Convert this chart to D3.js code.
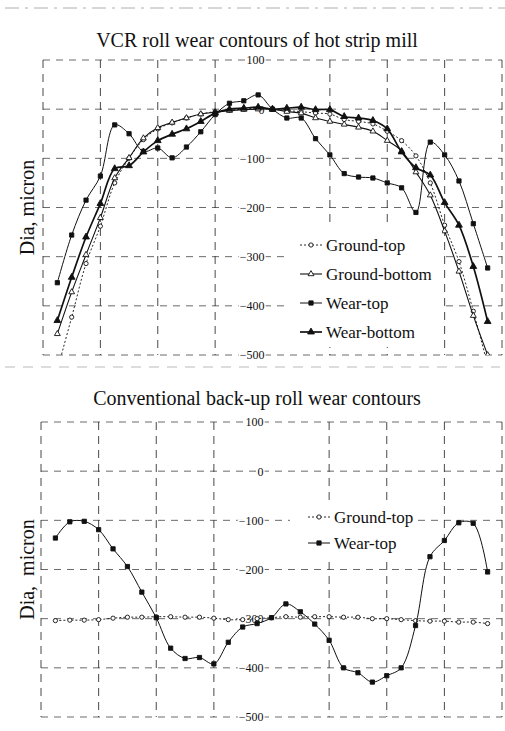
<!DOCTYPE html>
<html>
<head>
<meta charset="utf-8">
<script src="https://cdn.jsdelivr.net/npm/d3@7"></script>
<style>
	body { margin: 0; background: #fff; }
	svg { display: block; font-family: "Liberation Serif", "Times New Roman", serif; }
</style>
</head>
<body>
<svg id="chart" width="505" height="731"></svg>
<script>
// measuring stations along the roll barrel (no axis labels in the original)
var stations = [1, 2, 3, 4, 5, 6, 7, 8, 9, 10, 11, 12, 13, 14, 15, 16,
		17, 18, 19, 20, 21, 22, 23, 24, 25, 26, 27, 28, 29, 30, 31];
var gridStations = [0, 4, 8, 12, 20, 24, 28, 32];
var diaTicks = [100, 0, -100, -200, -300, -400, -500];

// VCR roll, hot strip mill
var vcrGroundTop = [-530, -423, -314, -238, -150, -100, -62, -40, -28, -18, -10, -5, -2, 0, 2, 0,
		-3, -5, -8, -10, -21, -25, -30, -45, -64, -95, -150, -236, -310, -411, -520];
var vcrGroundBottom = [-457, -372, -296, -221, -140, -99, -59, -38, -27, -18, -10, -6, -3, -1, 0, 0,
		-5, -8, -18, -25, -31, -37, -45, -64, -85, -128, -175, -248, -330, -420, -500];
var vcrWearTop = [-353, -256, -185, -136, -32, -50, -86, -79, -99, -77, -46, -11, 12, 17, 29, 0,
		-18, -18, -60, -93, -131, -138, -140, -150, -160, -210, -67, -93, -146, -233, -323];
var vcrWearBottom = [-430, -342, -260, -192, -121, -115, -87, -64, -51, -40, -25, -8, 0, 2, 4, 0,
		2, 4, -1, -1, -15, -18, -23, -40, -87, -119, -134, -190, -236, -320, -432];

// conventional back-up roll
var cbrGroundTop = [-304, -303, -303, -302, -299, -297, -297, -296, -296, -297, -297, -299, -302, -302, -300, -298,
		-296, -297, -296, -296, -297, -297, -300, -300, -302, -304, -305, -305, -307, -307, -310];
var cbrWearTop = [-136, -103, -102, -119, -158, -194, -246, -298, -360, -381, -379, -392, -348, -317, -310, -298,
		-270, -286, -311, -344, -400, -410, -429, -416, -400, -314, -174, -141, -105, -106, -205];

var styles = {
	"Ground-top":    {symbol: d3.symbolCircle,   size: 14, fill: "#fff", dash: "2,2", width: 0.9},
	"Ground-bottom": {symbol: d3.symbolTriangle, size: 15, fill: "#fff", dash: null,  width: 1.1},
	"Wear-top":      {symbol: d3.symbolSquare,   size: 18, fill: "#111", dash: null,  width: 1},
	"Wear-bottom":   {symbol: d3.symbolTriangle, size: 20, fill: "#111", dash: null,  width: 1.7}
};

var svg = d3.select("#chart");

// faint scan rules left over from the page
svg.append("line")
	.attr("x1", 5).attr("x2", 505).attr("y1", 8).attr("y2", 8)
	.attr("stroke", "#999").attr("stroke-width", 0.8).attr("stroke-dasharray", "14,6,3,6");
svg.append("line")
	.attr("x1", 5).attr("x2", 500).attr("y1", 367).attr("y2", 367)
	.attr("stroke", "#aaa").attr("stroke-width", 0.8).attr("stroke-dasharray", "10,8");

function drawPanel(cfg) {
	var x = d3.scaleLinear().domain([0, 32]).range([cfg.left, cfg.right]),
			y = d3.scaleLinear().domain([-500, 100]).range([cfg.bottom, cfg.top]);

	var g = svg.append("g").attr("class", "panel");

	g.append("text")
		.attr("x", 257)
		.attr("y", cfg.titleY)
		.attr("text-anchor", "middle")
		.attr("font-size", 20)
		.attr("fill", "#111")
		.text(cfg.title);

	g.append("text")
		.attr("transform", "translate(34," + ((cfg.top + cfg.bottom) / 2) + ") rotate(-90)")
		.attr("text-anchor", "middle")
		.attr("font-size", 20)
		.attr("fill", "#111")
		.style("white-space", "pre")
		.text(cfg.yLabel);

	// dashed grid, the frame is part of it
	g.append("g").attr("class", "grid-y")
		.selectAll("line")
		.data(diaTicks)
		.join("line")
			.attr("x1", cfg.left).attr("x2", cfg.right)
			.attr("y1", function(d) { return y(d); })
			.attr("y2", function(d) { return y(d); })
			.attr("stroke", "#444")
			.attr("stroke-width", 0.8)
			.attr("stroke-dasharray", "7,6");

	g.append("g").attr("class", "grid-x")
		.selectAll("line")
		.data(gridStations)
		.join("line")
			.attr("x1", function(d) { return x(d); })
			.attr("x2", function(d) { return x(d); })
			.attr("y1", cfg.top).attr("y2", cfg.bottom)
			.attr("stroke", "#333")
			.attr("stroke-width", 0.9)
			.attr("stroke-dasharray", "8,6");

	// tick labels sit in the middle of the plot
	var yAxis = d3.axisLeft(y).tickValues(diaTicks).tickSize(0).tickPadding(0);
	var axisG = g.append("g")
		.attr("transform", "translate(" + (x(16) - 8) + ",0)")
		.call(yAxis);
	axisG.select(".domain").remove();
	axisG.selectAll("text")
		.attr("font-family", "Liberation Serif, serif")
		.attr("font-size", 12)
		.attr("fill", "#111")
		.attr("stroke", "#fff")
		.attr("stroke-width", 3)
		.attr("paint-order", "stroke");

	var clipId = "clip-" + cfg.id;
	svg.append("defs").append("clipPath")
			.attr("id", clipId)
		.append("rect")
			.attr("x", cfg.left - 6)
			.attr("y", cfg.top)
			.attr("width", cfg.right - cfg.left + 12)
			.attr("height", cfg.bottom - cfg.top);

	var line = d3.line()
		.curve(d3.curveCatmullRom.alpha(0.5))
		.x(function(d) { return x(d.s); })
		.y(function(d) { return y(d.v); });

	var plot = g.append("g").attr("clip-path", "url(#" + clipId + ")");

	cfg.series.forEach(function(ser) {
		var st = styles[ser.name];
		var pts = stations.map(function(s, i) { return {s: s, v: ser.values[i]}; });
		plot.append("path")
			.datum(pts)
			.attr("fill", "none")
			.attr("stroke", "#111")
			.attr("stroke-width", st.width)
			.attr("stroke-dasharray", st.dash)
			.attr("d", line);
		plot.append("g")
			.selectAll("path")
			.data(pts)
			.join("path")
				.attr("transform", function(d) { return "translate(" + x(d.s) + "," + y(d.v) + ")"; })
				.attr("d", d3.symbol(st.symbol, st.size))
				.attr("fill", st.fill)
				.attr("stroke", "#111")
				.attr("stroke-width", 0.9);
	});

	// legend on a white patch
	var lg = cfg.legend;
	var legend = g.append("g").attr("class", "legend");
	legend.append("rect")
		.attr("x", lg.x0).attr("y", lg.y0)
		.attr("width", lg.x1 - lg.x0).attr("height", lg.y1 - lg.y0)
		.attr("fill", "#fff");
	cfg.series.forEach(function(ser, i) {
		var st = styles[ser.name],
				ly = lg.rows[i];
		legend.append("line")
			.attr("x1", lg.sx).attr("x2", lg.sx + 22)
			.attr("y1", ly).attr("y2", ly)
			.attr("stroke", "#111")
			.attr("stroke-width", st.width)
			.attr("stroke-dasharray", st.dash);
		legend.append("path")
			.attr("transform", "translate(" + (lg.sx + 11) + "," + ly + ")")
			.attr("d", d3.symbol(st.symbol, st.size))
			.attr("fill", st.fill)
			.attr("stroke", "#111")
			.attr("stroke-width", 0.9);
		legend.append("text")
			.attr("x", lg.sx + 26)
			.attr("y", ly)
			.attr("dy", "0.33em")
			.attr("font-size", 17)
			.attr("fill", "#111")
			.text(ser.name);
	});
}

drawPanel({
	id: "vcr",
	title: "VCR roll wear contours of hot strip mill",
	titleY: 47,
	yLabel: "Dia, micron",
	left: 43, right: 502, top: 60, bottom: 355,
	series: [
		{name: "Ground-top", values: vcrGroundTop},
		{name: "Ground-bottom", values: vcrGroundBottom},
		{name: "Wear-top", values: vcrWearTop},
		{name: "Wear-bottom", values: vcrWearBottom}
	],
	legend: {x0: 290, x1: 442, y0: 228, y1: 347, sx: 300, rows: [245, 274, 303, 332]}
});

drawPanel({
	id: "cbr",
	title: "Conventional back-up roll wear contours",
	titleY: 405,
	yLabel: "Dia,  micron",
	left: 41, right: 502, top: 422, bottom: 717,
	series: [
		{name: "Ground-top", values: cbrGroundTop},
		{name: "Wear-top", values: cbrWearTop}
	],
	legend: {x0: 290, x1: 413, y0: 500, y1: 557, sx: 308, rows: [517, 543]}
});
</script>
</body>
</html>
